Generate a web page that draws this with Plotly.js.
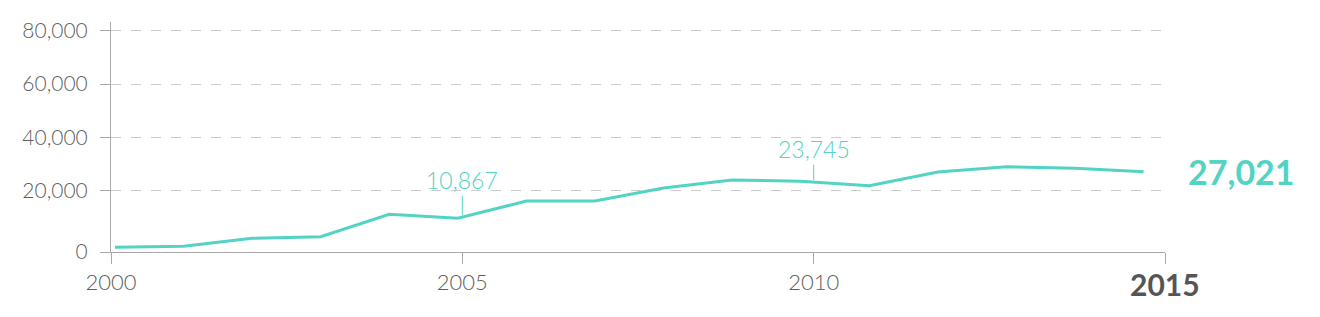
<!DOCTYPE html>
<html>
<head>
<meta charset="utf-8">
<script src="https://cdn.plot.ly/plotly-3.0.1.min.js"></script>
<style>
  html, body { margin: 0; padding: 0; background: #ffffff; }
  #chart { width: 1320px; height: 317px; }
</style>
</head>
<body>
<div id="chart"></div>
<script>
// ---- data ----
const years = [2000, 2001, 2002, 2003, 2004, 2005, 2006, 2007, 2008, 2009, 2010, 2011, 2012, 2013, 2014, 2015];
const values = [800, 1150, 3950, 4500, 12250, 10867, 16850, 16900, 21350, 24150, 23745, 22150, 26900, 28750, 28200, 27021];
const xTickYears = [2000, 2005, 2010, 2015];
const xTickLabels = ['2000', '2005', '2010', ''];
const yGridValues = [20000, 40000, 60000, 80000];
const yTickLabels = ['0', '20,000', '40,000', '60,000', '80,000'];
const calloutYears = [2005, 2010];
const finalYear = 2015;

// ---- styling ----
const TEAL = '#52d3c3';
const GRAY_TEXT = '#5f5f5f';
const AXIS_GRAY = '#a8a8a8';
const FONT = 'Lato, "Open Sans", sans-serif';

// bottom of the scale axis (where the "0" label sits)
const GRID_MIN = -3000;
const gridTickVals = [GRID_MIN].concat(yGridValues);

const fmt = v => v.toLocaleString('en-US');

const lineTrace = {
  x: years, y: values, xaxis: 'x2', yaxis: 'y2',
  type: 'scatter', mode: 'lines',
  line: { color: TEAL, width: 3, shape: 'linear' },
  hoverinfo: 'skip'
};
const gridTrace = { x: [], y: [], xaxis: 'x', yaxis: 'y', type: 'scatter', mode: 'lines', hoverinfo: 'skip' };

const annotations = calloutYears.map((yr, k) => {
  const v = values[years.indexOf(yr)];
  return {
    xref: 'x', yref: 'y2', x: yr, y: v,
    text: fmt(v), showarrow: true, arrowhead: 0, arrowwidth: 1, arrowcolor: TEAL,
    ax: 0, ay: k === 0 ? -38 : -32, standoff: k === 0 ? 3 : 1,
    font: { family: FONT, size: 23, color: TEAL, weight: 300 }
  };
});
annotations.push({
  xref: 'paper', yref: 'y2', x: 1.0195, y: values[values.length - 1],
  xanchor: 'left', yanchor: 'middle', showarrow: false,
  text: '<b>' + fmt(values[values.length - 1]) + '</b>',
  font: { family: FONT, size: 34, color: TEAL }
});
annotations.push({
  xref: 'x', yref: 'paper', x: finalYear, y: -0.137,
  xanchor: 'center', yanchor: 'middle', showarrow: false,
  text: '<b>' + finalYear + '</b>',
  font: { family: FONT, size: 30, color: '#555555' }
});

const layout = {
  width: 1320, height: 317,
  margin: { l: 111, r: 155, t: 22, b: 65, pad: 0 },
  paper_bgcolor: '#ffffff', plot_bgcolor: '#ffffff',
  showlegend: false,
  xaxis: {
    range: [2000, 2015], tickmode: 'array', tickvals: xTickYears, ticktext: xTickLabels,
    showgrid: false, zeroline: false,
    showline: true, linecolor: AXIS_GRAY, linewidth: 1,
    ticks: 'outside', ticklen: 11, tickcolor: AXIS_GRAY, tickwidth: 1,
    tickfont: { family: FONT, size: 22, color: GRAY_TEXT, weight: 300 },
    fixedrange: true
  },
  yaxis: {
    range: [GRID_MIN, 83250], tickmode: 'array', tickvals: gridTickVals, ticktext: yTickLabels,
    showgrid: true, gridcolor: '#cccccc', gridwidth: 1, griddash: '10px,10px',
    zeroline: false,
    showline: true, linecolor: AXIS_GRAY, linewidth: 1,
    ticks: 'outside', ticklen: 10, tickcolor: AXIS_GRAY, tickwidth: 1,
    ticklabelstandoff: 8,
    tickfont: { family: FONT, size: 21, color: GRAY_TEXT, weight: 300 },
    fixedrange: true
  },
  xaxis2: { overlaying: 'x', anchor: 'y2', range: [1999.942, 2015.3125], visible: false, fixedrange: true },
  yaxis2: { overlaying: 'y', anchor: 'x2', range: [-815, 78917], visible: false, fixedrange: true },
  annotations: annotations
};

Plotly.newPlot('chart', [gridTrace, lineTrace], layout, { displayModeBar: false, staticPlot: true });
</script>
</body>
</html>
